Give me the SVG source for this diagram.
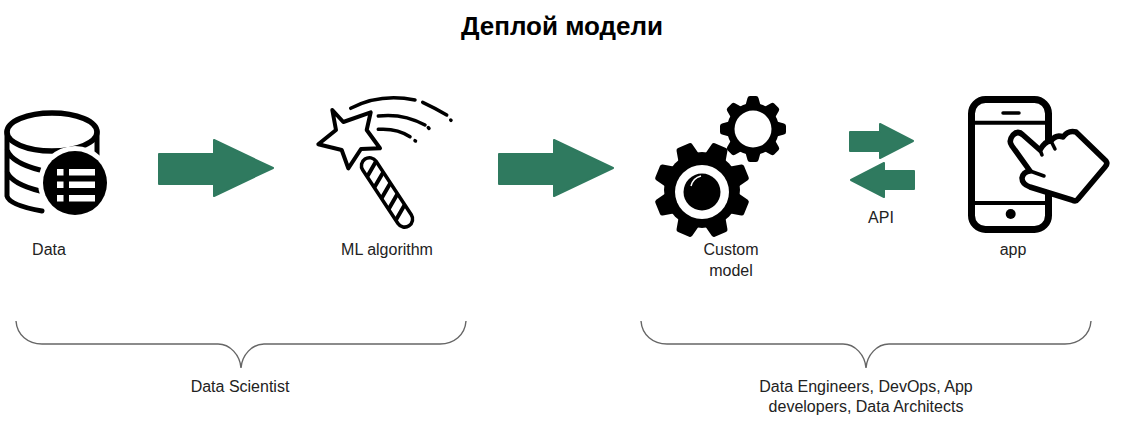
<svg xmlns="http://www.w3.org/2000/svg" width="1122" height="447" viewBox="0 0 1122 447">
<style>
text{font-family:"Liberation Sans",Arial,sans-serif;font-size:16px;fill:#222;text-anchor:middle}
.title{font-size:26px;font-weight:bold;fill:#000}
.arrow{fill:#2f7a5f;stroke:#2f7a5f;stroke-width:2;stroke-linejoin:round}
.brace{fill:none;stroke:#666;stroke-width:1.4}
.ink{fill:none;stroke:#000;stroke-linecap:round;stroke-linejoin:round}
</style>
<defs>
<path id="bigTooth" d="M-12,-30L-8.5,-46Q-8,-48 -6,-48L6,-48Q8,-48 8.5,-46L12,-30Z"/>
<path id="smallTooth" d="M-8,-22L-5.5,-31Q-5,-33 -3,-33L3,-33Q5,-33 5.5,-31L8,-22Z"/>
</defs>
<rect width="1122" height="447" fill="#fff"/>
<text class="title" x="562" y="35">Деплой модели</text>

<g id="data">
<ellipse class="ink" cx="52" cy="132" rx="45" ry="19" stroke-width="5.5"/>
<path class="ink" stroke-width="5" d="M7,132V196Q9,205 42,211M7,150Q12,163 40,170M7,172Q12,184 40,191M97,132V160"/>
<circle cx="75" cy="183" r="37" fill="#fff"/>
<circle cx="75" cy="183" r="32" fill="#000"/>
<path fill="#fff" d="M57,169h6.500v6.500h-6.500zM69,169h26v6.500h-26zM57,181.500h6.500v6.500h-6.500zM69,181.500h26v6.500h-26zM57,195h6.500v6.500h-6.500zM69,195h26v6.500h-26z"/>
<text x="49" y="255">Data</text>
</g>

<g id="ml-algorithm">
<path class="ink" stroke-width="4" d="M332.300,110L343.300,122L370.700,112.300L366.700,130L380,148.300L361,149L348.300,168.300L341.700,150L318.300,144.300L336,130Z"/>
<g transform="translate(365,159) rotate(56.600)">
<rect x="0" y="-8" width="80" height="16" rx="8" fill="#fff" stroke="#000" stroke-width="3.500"/>
<path stroke="#000" stroke-width="4" d="M8,-8L16,8M21,-8L29,8M34,-8L42,8M47,-8L55,8M60,-8L68,8"/>
</g>
<path class="ink" stroke-width="3.500" d="M350.700,108.300Q380,93 415,100M422.700,102.300Q435,108 446.700,115M450.700,120L451,120.300M378.300,116Q403,113 425,125M428.300,127.700L429,128.300M378.300,129.300Q397,128 410,136.700M415,140.700L415.500,141"/>
<text x="387" y="255">ML algorithm</text>
</g>

<g id="custom-model">
<g>
<circle cx="702" cy="190" r="38"/>
<use href="#bigTooth" transform="translate(702,190) rotate(22.500)"/>
<use href="#bigTooth" transform="translate(702,190) rotate(67.500)"/>
<use href="#bigTooth" transform="translate(702,190) rotate(112.500)"/>
<use href="#bigTooth" transform="translate(702,190) rotate(157.500)"/>
<use href="#bigTooth" transform="translate(702,190) rotate(202.500)"/>
<use href="#bigTooth" transform="translate(702,190) rotate(247.500)"/>
<use href="#bigTooth" transform="translate(702,190) rotate(292.500)"/>
<use href="#bigTooth" transform="translate(702,190) rotate(337.500)"/>
<circle cx="702" cy="192" r="27" fill="#fff"/>
<circle cx="702" cy="192" r="18.500"/>
<path d="M691,186Q693,178 701,176" fill="none" stroke="#fff" stroke-width="1.500"/>
</g>
<g>
<circle cx="753" cy="129" r="26"/>
<use href="#smallTooth" transform="translate(753,129)"/>
<use href="#smallTooth" transform="translate(753,129) rotate(45)"/>
<use href="#smallTooth" transform="translate(753,129) rotate(90)"/>
<use href="#smallTooth" transform="translate(753,129) rotate(135)"/>
<use href="#smallTooth" transform="translate(753,129) rotate(180)"/>
<use href="#smallTooth" transform="translate(753,129) rotate(225)"/>
<use href="#smallTooth" transform="translate(753,129) rotate(270)"/>
<use href="#smallTooth" transform="translate(753,129) rotate(315)"/>
<circle cx="753" cy="129" r="18.500" fill="#fff"/>
</g>
<text x="731" y="255">Custom</text>
<text x="731" y="276">model</text>
</g>

<g id="api-label"><text x="881" y="223">API</text></g>

<g id="app">
<rect x="971.500" y="99.500" width="77" height="130" rx="14" fill="#fff" stroke="#000" stroke-width="7"/>
<path class="ink" stroke-width="4" d="M973,122.700H1047M973,203H1047"/>
<path class="ink" stroke-width="3.500" d="M1003,113H1019"/>
<circle cx="1010.700" cy="214" r="5"/>
<path fill="#fff" stroke="#000" stroke-width="5.500" stroke-linejoin="round" stroke-linecap="round" d="M1012,146Q1008,141 1013,135Q1018,130 1023,135L1040,150Q1045,141 1051,141Q1056,134 1063,137Q1068,130 1076,132L1106,161Q1108,164 1105,167L1078,199Q1076,202 1072,200L1030,187Q1022,184 1022,178Q1023,172 1030,171Z"/>
<path class="ink" stroke-width="3.500" d="M1040,150L1042,155M1051,141L1055,149M1030,171L1044,176"/>
<text x="1013" y="255">app</text>
</g>

<g id="connectors">
<path class="arrow" d="M159,154H214V140L273,168L214,196V184H159Z"/>
<path class="arrow" d="M499,154H554V140L613,168L554,196V184H499Z"/>
<path class="arrow" d="M850,132H880V124L913,141L880,158V151H850Z"/>
<path class="arrow" d="M914,171H884V163L851,180L884,197V189H914Z"/>
<path class="brace" d="M16,321C17,335 28,344 42,344H218C230,344 240,355 241,368C242,355 252,344 264,344H440C454,344 465,335 466,321"/>
<path class="brace" d="M641,321C642,335 653,344 667,344H843C855,344 865,355 866,368C867,355 877,344 889,344H1065C1079,344 1090,335 1091,321"/>
</g>

<g id="data-scientist"><text x="240" y="392">Data Scientist</text></g>
<g id="data-engineers">
<text x="866" y="392">Data Engineers, DevOps, App</text>
<text x="866" y="412">developers, Data Architects</text>
</g>
</svg>
